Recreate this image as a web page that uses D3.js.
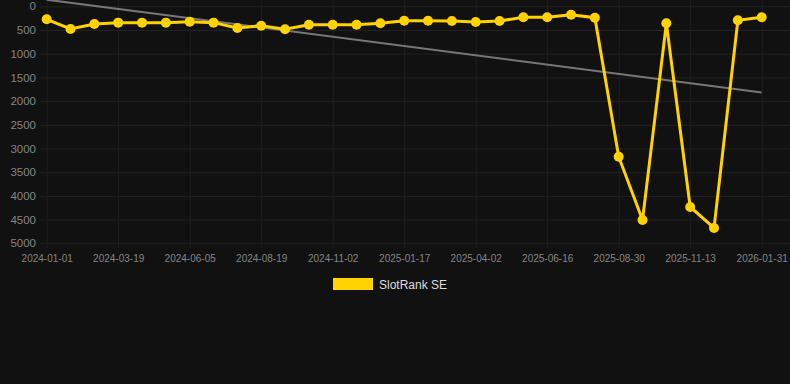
<!DOCTYPE html>
<html>
<head>
<meta charset="utf-8">
<script src="https://cdn.jsdelivr.net/npm/d3@7"></script>
<style>
  html, body { margin: 0; padding: 0; background: #111111; }
  #chart { width: 790px; height: 384px; }
  text { font-family: "Liberation Sans", Arial, sans-serif; }
</style>
</head>
<body>
<div id="chart"></div>
<script>
// category labels (dates)
const dates = [
  "2024-01-01", "2024-01-27", "2024-02-22", "2024-03-19", "2024-04-14", "2024-05-10",
  "2024-06-05", "2024-06-30", "2024-07-25", "2024-08-19", "2024-09-13", "2024-10-08",
  "2024-11-02", "2024-11-27", "2024-12-23", "2025-01-17", "2025-02-11", "2025-03-08",
  "2025-04-02", "2025-04-27", "2025-05-22", "2025-06-16", "2025-07-11", "2025-08-05",
  "2025-08-30", "2025-09-24", "2025-10-19", "2025-11-13", "2025-12-09", "2026-01-05",
  "2026-01-31"
];

// SlotRank SE rank values
const rankValues = [
  274, 479, 373, 345, 345, 345, 324, 345, 457, 409, 485, 388,
  388, 388, 359, 303, 303, 310, 331, 310, 232, 232, 177, 240,
  3173, 4508, 359, 4234, 4677, 296, 232
];

// trend line end values (first and last date)
const trendDates = ["2024-01-01", "2026-01-31"];
const trendValues = [-140, 1820];

const yTicks = [0, 500, 1000, 1500, 2000, 2500, 3000, 3500, 4000, 4500, 5000];
const xTickLabels = dates.filter((d, i) => i % 3 === 0);

const seriesName = "SlotRank SE";

const width = 790;
const height = 384;
const lineColor = "#ffd200";

const svg = d3.select("#chart").append("svg")
  .attr("width", width)
  .attr("height", height);

svg.append("rect")
  .attr("width", width)
  .attr("height", height)
  .attr("fill", "#111111");

const x = d3.scalePoint()
  .domain(dates)
  .range([46.7, 761.7]);

const y = d3.scaleLinear()
  .domain([0, 5000])
  .range([6.3, 243.3]);

// horizontal grid
svg.append("g")
  .attr("transform", "translate(40,0)")
  .call(d3.axisLeft(y).tickValues(yTicks).tickSize(-750).tickFormat(""))
  .call(g => g.select(".domain").remove())
  .selectAll("line")
  .attr("stroke", "#222222");

// vertical grid
svg.append("g")
  .attr("transform", "translate(0,248)")
  .call(d3.axisBottom(x).tickValues(xTickLabels).tickSize(-248).tickFormat(""))
  .call(g => g.select(".domain").remove())
  .selectAll("line")
  .attr("stroke", "#1f1f1f");

// y axis labels
svg.append("g")
  .attr("transform", "translate(36,0)")
  .call(d3.axisLeft(y).tickValues(yTicks).tickSize(0).tickPadding(0).tickFormat(d3.format("d")))
  .call(g => g.select(".domain").remove())
  .selectAll("text")
  .attr("fill", "#858585")
  .style("font-size", "11.5px");

// x axis labels
svg.append("g")
  .attr("transform", "translate(0,251)")
  .call(d3.axisBottom(x).tickValues(xTickLabels).tickSize(0).tickPadding(4))
  .call(g => g.select(".domain").remove())
  .selectAll("text")
  .attr("fill", "#858585")
  .style("font-size", "10px");

// trend line
svg.append("path")
  .datum(trendDates.map((d, i) => ({ date: d, value: trendValues[i] })))
  .attr("fill", "none")
  .attr("stroke", "#777777")
  .attr("stroke-width", 2)
  .attr("d", d3.line().x(d => x(d.date)).y(d => y(d.value)));

const rows = dates.map((d, i) => ({ date: d, value: rankValues[i] }));

svg.append("path")
  .datum(rows)
  .attr("fill", "none")
  .attr("stroke", lineColor)
  .attr("stroke-width", 3)
  .attr("stroke-linejoin", "miter")
  .attr("d", d3.line().x(d => x(d.date)).y(d => y(d.value)));

svg.append("g")
  .selectAll("circle")
  .data(rows)
  .enter()
  .append("circle")
  .attr("cx", d => x(d.date))
  .attr("cy", d => y(d.value))
  .attr("r", 5)
  .attr("fill", lineColor);

// legend
const legend = svg.append("g");
legend.append("rect")
  .attr("x", 333)
  .attr("y", 278)
  .attr("width", 40)
  .attr("height", 12)
  .attr("fill", lineColor);
legend.append("text")
  .attr("x", 379)
  .attr("y", 288.5)
  .attr("fill", "#dddddd")
  .style("font-size", "12px")
  .text(seriesName);
</script>
</body>
</html>
